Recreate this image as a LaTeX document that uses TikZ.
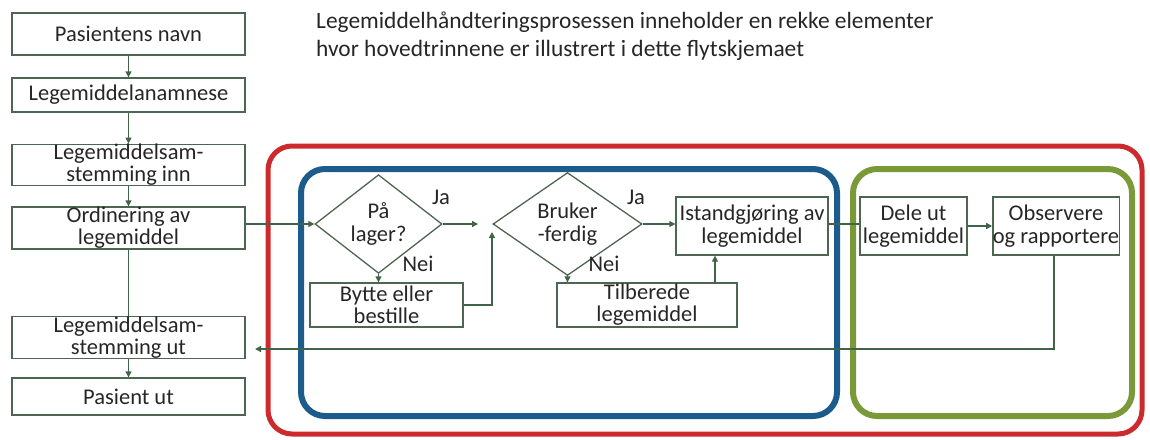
\documentclass[tikz,border=0pt]{standalone}
\usepackage{fontspec}
\setmainfont{Carlito}
\usetikzlibrary{arrows.meta,shapes.geometric}
\definecolor{ln}{HTML}{3F6448}
\definecolor{bx}{HTML}{4C6652}
\definecolor{tx}{HTML}{262626}
\definecolor{redf}{HTML}{CC2A2C}
\definecolor{bluef}{HTML}{1C5C8C}
\definecolor{greenf}{HTML}{7A9A3A}
\tikzset{
  box/.style={draw=bx, line width=1.3pt, rectangle, inner sep=0pt, align=center, text=tx, font=\fontsize{22.5}{23}\selectfont},
  dec/.style={draw=bx, line width=1.3pt, diamond, inner sep=0pt, align=center, text=tx, font=\fontsize{22.5}{23}\selectfont, minimum width=127pt, minimum height=72pt},
  lbl/.style={text=tx, font=\fontsize{22.5}{23}\selectfont, inner sep=0pt},
  conn/.style={draw=ln, line width=1.3pt},
  arr/.style={conn, -{Triangle[length=6pt,width=6pt]}},
  frame/.style={rounded corners=24pt, line width=5pt},
}
\begin{document}
\begin{tikzpicture}[x=1pt,y=-1pt]
\useasboundingbox (0,0) rectangle (1150,439);
% frames
\draw[frame, draw=redf] (268,146) rectangle (1142,434);
\draw[frame, draw=bluef, line width=6pt] (301,169) rectangle (837,416);
\draw[frame, draw=greenf, line width=6pt] (853,169) rectangle (1132,416);
% title
\node[lbl, anchor=west, align=left, font=\fontsize{23.4}{28}\selectfont] (title) at (316,36) {Legemiddelhåndteringsprosessen inneholder en rekke elementer\\hvor hovedtrinnene er illustrert i dette flytskjemaet};
% left column
\node[box, minimum width=233pt, minimum height=42pt] (p1) at (128.5,34) {Pasientens navn};
\node[box, minimum width=233pt, minimum height=34pt] (p2) at (128.5,95) {Legemiddelanamnese};
\node[box, minimum width=233pt, minimum height=40pt, font=\fontsize{22.5}{22}\selectfont] (p3) at (128.5,165) {Legemiddelsam-\\stemming inn};
\node[box, minimum width=233pt, minimum height=42pt, font=\fontsize{22.5}{22}\selectfont] (p4) at (128.5,228) {Ordinering av\\legemiddel};
\node[box, minimum width=233pt, minimum height=39pt, font=\fontsize{22.5}{22}\selectfont] (p5) at (128.5,337.5) {Legemiddelsam-\\stemming ut};
\node[box, minimum width=233pt, minimum height=37pt] (p6) at (128.5,396.5) {Pasient ut};
% blue section
\node[dec] (d1) at (378.5,224) {På\\lager?};
\node[box, minimum width=153pt, minimum height=44pt, font=\fontsize{22.5}{22}\selectfont] (b1) at (386.5,305) {Bytte eller\\bestille};
\node[dec, minimum width=149pt] (d2) at (567.5,224) {Bruker\\-ferdig};
\node[box, minimum width=180pt, minimum height=44pt, font=\fontsize{22.5}{22}\selectfont] (b2) at (647,305) {Tilberede\\legemiddel};
\node[box, minimum width=152pt, minimum height=58pt] (b3) at (752,226) {Istandgjøring av\\legemiddel};
% green section
\node[box, minimum width=107pt, minimum height=58pt] (g1) at (913.5,226) {Dele ut\\legemiddel};
\node[box, minimum width=126pt, minimum height=58pt] (g2) at (1056,226) {Observere\\og rapportere};
% labels
\node[lbl] (ja1) at (441,197) {Ja};
\node[lbl] (nei1) at (418,264) {Nei};
\node[lbl] (ja2) at (636,197) {Ja};
\node[lbl] (nei2) at (604,264) {Nei};
% connectors
\coordinate (m2) at (492,232);
\coordinate (lowy) at (1054,349);
\coordinate (endp) at (255,349);
\draw[arr] (p1) -- (p2);
\draw[arr] (p2) -- (p3);
\draw[arr] (p3) -- (p4);
\draw[conn] (p4) -- (p5);
\draw[arr] (p5) -- (p6);
\draw[arr] (p4.east |- d1.west) -- (d1.west);
\draw[arr] (d1.east) -- (478,224);
\draw[arr] (d1.south) -- (b1.north -| d1.south);
\draw[arr] (b1.east) -| (m2);
\draw[arr] (d2.south) -- (b2.north -| d2.south);
\draw[arr] (d2.east) -- (b3.west |- d2.east);
\draw[arr] (715,283) -- (b3.south -| 715,0);
\draw[conn] (b3.east |- 0,224) -- (g1.west |- 0,224);
\draw[arr] (g1.east |- 0,226) -- (g2.west |- 0,226);
\draw[arr] (g2.south -| lowy) -- (lowy) -- (endp);
\end{tikzpicture}
\end{document}
